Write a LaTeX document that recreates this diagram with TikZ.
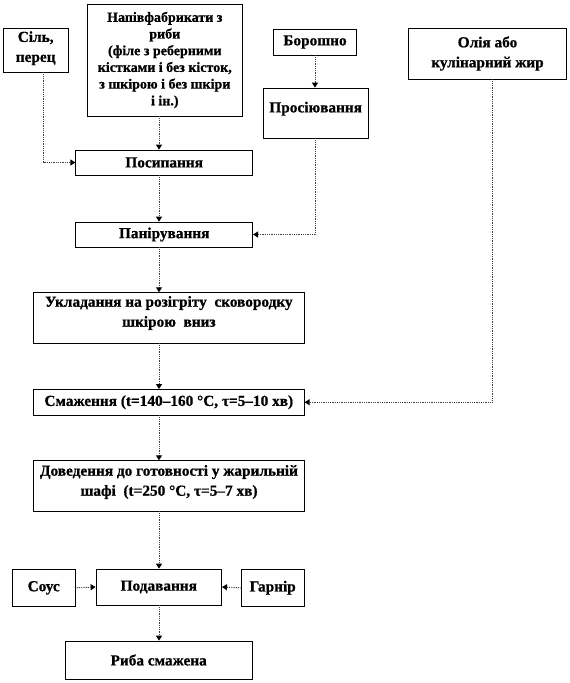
\documentclass[tikz,border=0pt]{standalone}
\usepackage{fontspec}
\setmainfont{Liberation Serif}[BoldFeatures={FakeBold=0.8}]
\usetikzlibrary{arrows.meta,calc}
\newcommand\uptext[2]{\raisebox{#1}[0pt][0pt]{\begin{tabular}{@{}c@{}}#2\end{tabular}}}
\begin{document}
\begin{tikzpicture}[x=1pt,y=-1pt,
  box/.style={draw, line width=0.7pt, inner sep=0pt, align=center,
     font=\fontsize{15.3}{20}\selectfont\bfseries},
  conn/.style={draw=black!75, line width=1pt, dash pattern=on 0.9pt off 0.9pt,
     -{Triangle[length=5pt,width=6pt,color=black]}}]
\useasboundingbox (0,0) rectangle (570,683);
\coordinate (axis) at (159,0);
% top row
\node[box, minimum width=64.7pt, minimum height=44pt] (sil) at (35.7,50) {\uptext{-1.5pt}{Сіль,\\перец}};
\node[box, minimum width=155.7pt, minimum height=112pt,
      font=\fontsize{14}{16.7}\selectfont\bfseries] (napiv) at (164.8,60)
  {Напівфабрикати з\\риби\\(філе з реберними\\кістками і без кісток,\\з шкірою і без шкіри\\і ін.)};
\node[box, minimum width=83pt, minimum height=26pt] (borosh) at (315,42) {Борошно};
\node[box, minimum width=105pt, minimum height=50pt] (pros) at (315.7,113) {\uptext{1pt}{Просіювання}};
\node[box, minimum width=158.4pt, minimum height=51pt] (olia) at (487.5,53.5) {Олія або\\кулінарний жир};
% main chain
\node[box, minimum width=177pt, minimum height=25pt] (posyp) at (164.2,162.5) {Посипання};
\node[box, minimum width=177pt, minimum height=25pt] (pan) at (164.2,234.5) {Панірування};
\node[box, minimum width=271.2pt, minimum height=50.3pt] (ukl) at (168.9,317.8)
  {\uptext{1.5pt}{Укладання на розігріту\ \ сковородку\\шкірою\ \ вниз}};
\node[box, minimum width=271pt, minimum height=25.7pt] (smazh) at (168.8,402.2)
  {Смаження (t=140–160 °C, τ=5–10 хв)};
\node[box, minimum width=271.4pt, minimum height=50.3pt] (doved) at (169,485.8)
  {\uptext{0.5pt}{Доведення до готовності у жарильній\\шафі\ \ (t=250 °C, τ=5–7 хв)}};
\node[box, minimum width=62.7pt, minimum height=37.7pt] (sous) at (43.7,587.8) {Соус};
\node[box, minimum width=125.7pt, minimum height=36pt] (podav) at (158.8,587) {Подавання};
\node[box, minimum width=63.3pt, minimum height=37.7pt] (garnir) at (272.7,587.8) {Гарнір};
\node[box, minimum width=187.3pt, minimum height=38pt] (ryba) at (158.7,660) {Риба смажена};
% connectors
\draw[conn] ([xshift=8pt]sil.south) |- (posyp.west);
\draw[conn] (napiv.south -| axis) -- (posyp.north -| axis);
\draw[conn] (borosh.south) -- (pros.north -| borosh.south);
\draw[conn] (pros.south) |- (pan.east);
\draw[conn] (posyp.south -| axis) -- (pan.north -| axis);
\draw[conn] (pan.south -| axis) -- (ukl.north -| axis);
\draw[conn] (ukl.south -| axis) -- (smazh.north -| axis);
\draw[conn] ([xshift=4.5pt]olia.south) |- (smazh.east);
\draw[conn] (smazh.south -| axis) -- (doved.north -| axis);
\draw[conn] (doved.south -| axis) -- (podav.north -| axis);
\draw[conn] (sous.east) -- (podav.west);
\draw[conn] (garnir.west) -- (podav.east);
\draw[conn] (podav.south -| axis) -- (ryba.north -| axis);
\end{tikzpicture}
\end{document}
